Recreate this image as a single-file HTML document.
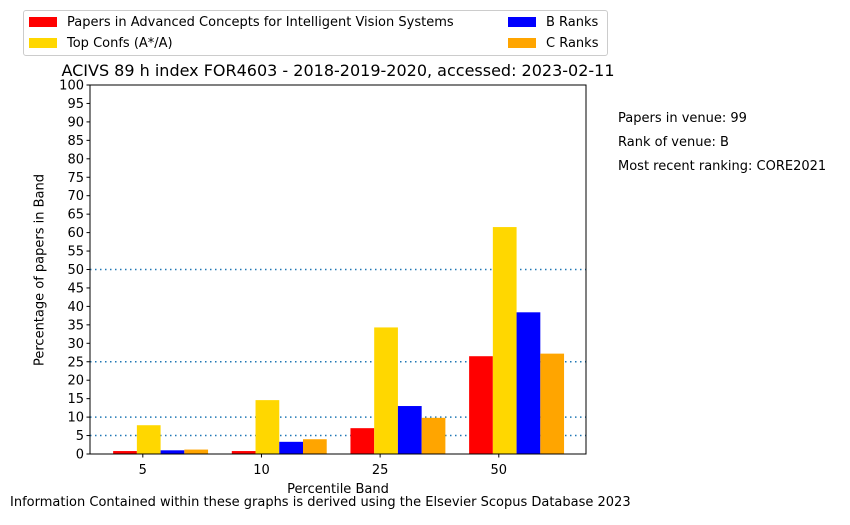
<!DOCTYPE html>
<html><head><meta charset="utf-8"><style>
body{margin:0;background:#fff;font-family:"Liberation Sans","DejaVu Sans",sans-serif}
svg text{font-family:"DejaVu Sans","Liberation Sans",sans-serif}
</style></head><body>
<svg id="chart" width="850" height="520" xmlns="http://www.w3.org/2000/svg"></svg>
<script>
const categories = ["5","10","25","50"];
const seriesNames = ["Papers in Advanced Concepts for Intelligent Vision Systems","Top Confs (A*/A)","B Ranks","C Ranks"];
const redVals = [0.8, 0.8, 7.0, 26.5];
const topVals = [7.8, 14.6, 34.3, 61.5];
const bVals = [1.0, 3.3, 13.0, 38.4];
const cVals = [1.2, 4.0, 9.8, 27.2];
const yTicks = [0,5,10,15,20,25,30,35,40,45,50,55,60,65,70,75,80,85,90,95,100];
const refLines = [5,10,25,50];
const colors = ["#ff0000","#ffd700","#0000ff","#ffa500"];
const seriesKeys = ["papers","top-confs","b-ranks","c-ranks"];

const svg = document.getElementById('chart');
const NS = 'http://www.w3.org/2000/svg';
const L=90,R=586,T=85,B=454;
const xMin=-0.295,xMax=3.885;
const xs = v => L + (v - xMin)/(xMax - xMin)*(R-L);
const ys = v => B - v/100*(B-T);
function mk(tag, attrs, txt){const e=document.createElementNS(NS,tag);for(const k in attrs)e.setAttribute(k,attrs[k]);if(txt!==undefined)e.textContent=txt;svg.appendChild(e);return e;}

// ref lines
refLines.forEach(v=>{
  const l=mk('line',{x1:L,x2:R,y1:ys(v),y2:ys(v),stroke:'#1f77b4','stroke-width':1.5,'stroke-dasharray':'1.5,3.5'});
  
  
});
// bars
const all=[redVals,topVals,bVals,cVals];
all.forEach((vals,s)=>{
  vals.forEach((v,i)=>{
    const c=i+s*0.2;
    const x0=xs(c-0.1),x1=xs(c+0.1);
    const r=mk('rect',{x:x0,y:ys(v),width:x1-x0,height:ys(0)-ys(v),fill:colors[s]});
    
    
  });
});
// axes frame
const f=mk('rect',{x:L,y:T,width:R-L,height:B-T,fill:'none',stroke:'#000','stroke-width':1});


// y ticks
yTicks.forEach(v=>{
  mk('line',{x1:L-3.5,x2:L,y1:ys(v),y2:ys(v),stroke:'#000'});
  const t=mk('text',{x:L-6,y:ys(v)+4.5,'text-anchor':'end','font-size':13},String(v));
  
  
});
// x ticks
categories.forEach((c,i)=>{
  const x=xs(i+0.15);
  mk('line',{x1:x,x2:x,y1:B,y2:B+3.5,stroke:'#000'});
  const t=mk('text',{x:x,y:B+20,'text-anchor':'middle','font-size':13},c);
  
  
});
</script>
<div style="position:absolute;left:0;top:0;width:850px;height:520px;font-family:'DejaVu Sans','Liberation Sans',sans-serif;font-size:13px;pointer-events:none">
  <div style="position:absolute;left:23px;top:10px;width:583px;height:44px;border:1px solid #ccc;border-radius:3px;background:#fff">
    <div style="position:absolute;left:5px;top:4px;white-space:nowrap"><span style="display:inline-block;width:28px;height:10px;background:#ff0000;vertical-align:-1px;margin-right:10px"></span>Papers in Advanced Concepts for Intelligent Vision Systems</div>
    <div style="position:absolute;left:5px;top:25px;white-space:nowrap"><span style="display:inline-block;width:28px;height:10px;background:#ffd700;vertical-align:-1px;margin-right:10px"></span>Top Confs (A*/A)</div>
    <div style="position:absolute;left:484px;top:4px;white-space:nowrap"><span style="display:inline-block;width:28px;height:10px;background:#0000ff;vertical-align:-1px;margin-right:10px"></span>B Ranks</div>
    <div style="position:absolute;left:484px;top:25px;white-space:nowrap"><span style="display:inline-block;width:28px;height:10px;background:#ffa500;vertical-align:-1px;margin-right:10px"></span>C Ranks</div>
  </div>
  <div style="position:absolute;left:0;width:676px;top:61px;text-align:center;font-size:16px;white-space:nowrap">ACIVS 89 h index FOR4603 - 2018-2019-2020, accessed: 2023-02-11</div>
  <div style="position:absolute;left:40px;top:270px;transform:translate(-50%,-50%) rotate(-90deg);white-space:nowrap">Percentage of papers in Band</div>
  <div style="position:absolute;left:338px;top:482px;transform:translateX(-50%);white-space:nowrap">Percentile Band</div>
  <div style="position:absolute;left:618px;top:111px">Papers in venue: 99</div>
  <div style="position:absolute;left:618px;top:135px">Rank of venue: B</div>
  <div style="position:absolute;left:618px;top:159px;white-space:nowrap">Most recent ranking: CORE2021</div>
  <div style="position:absolute;left:10px;top:495px;white-space:nowrap">Information Contained within these graphs is derived using the Elsevier Scopus Database 2023</div>
</div>
</body></html>
